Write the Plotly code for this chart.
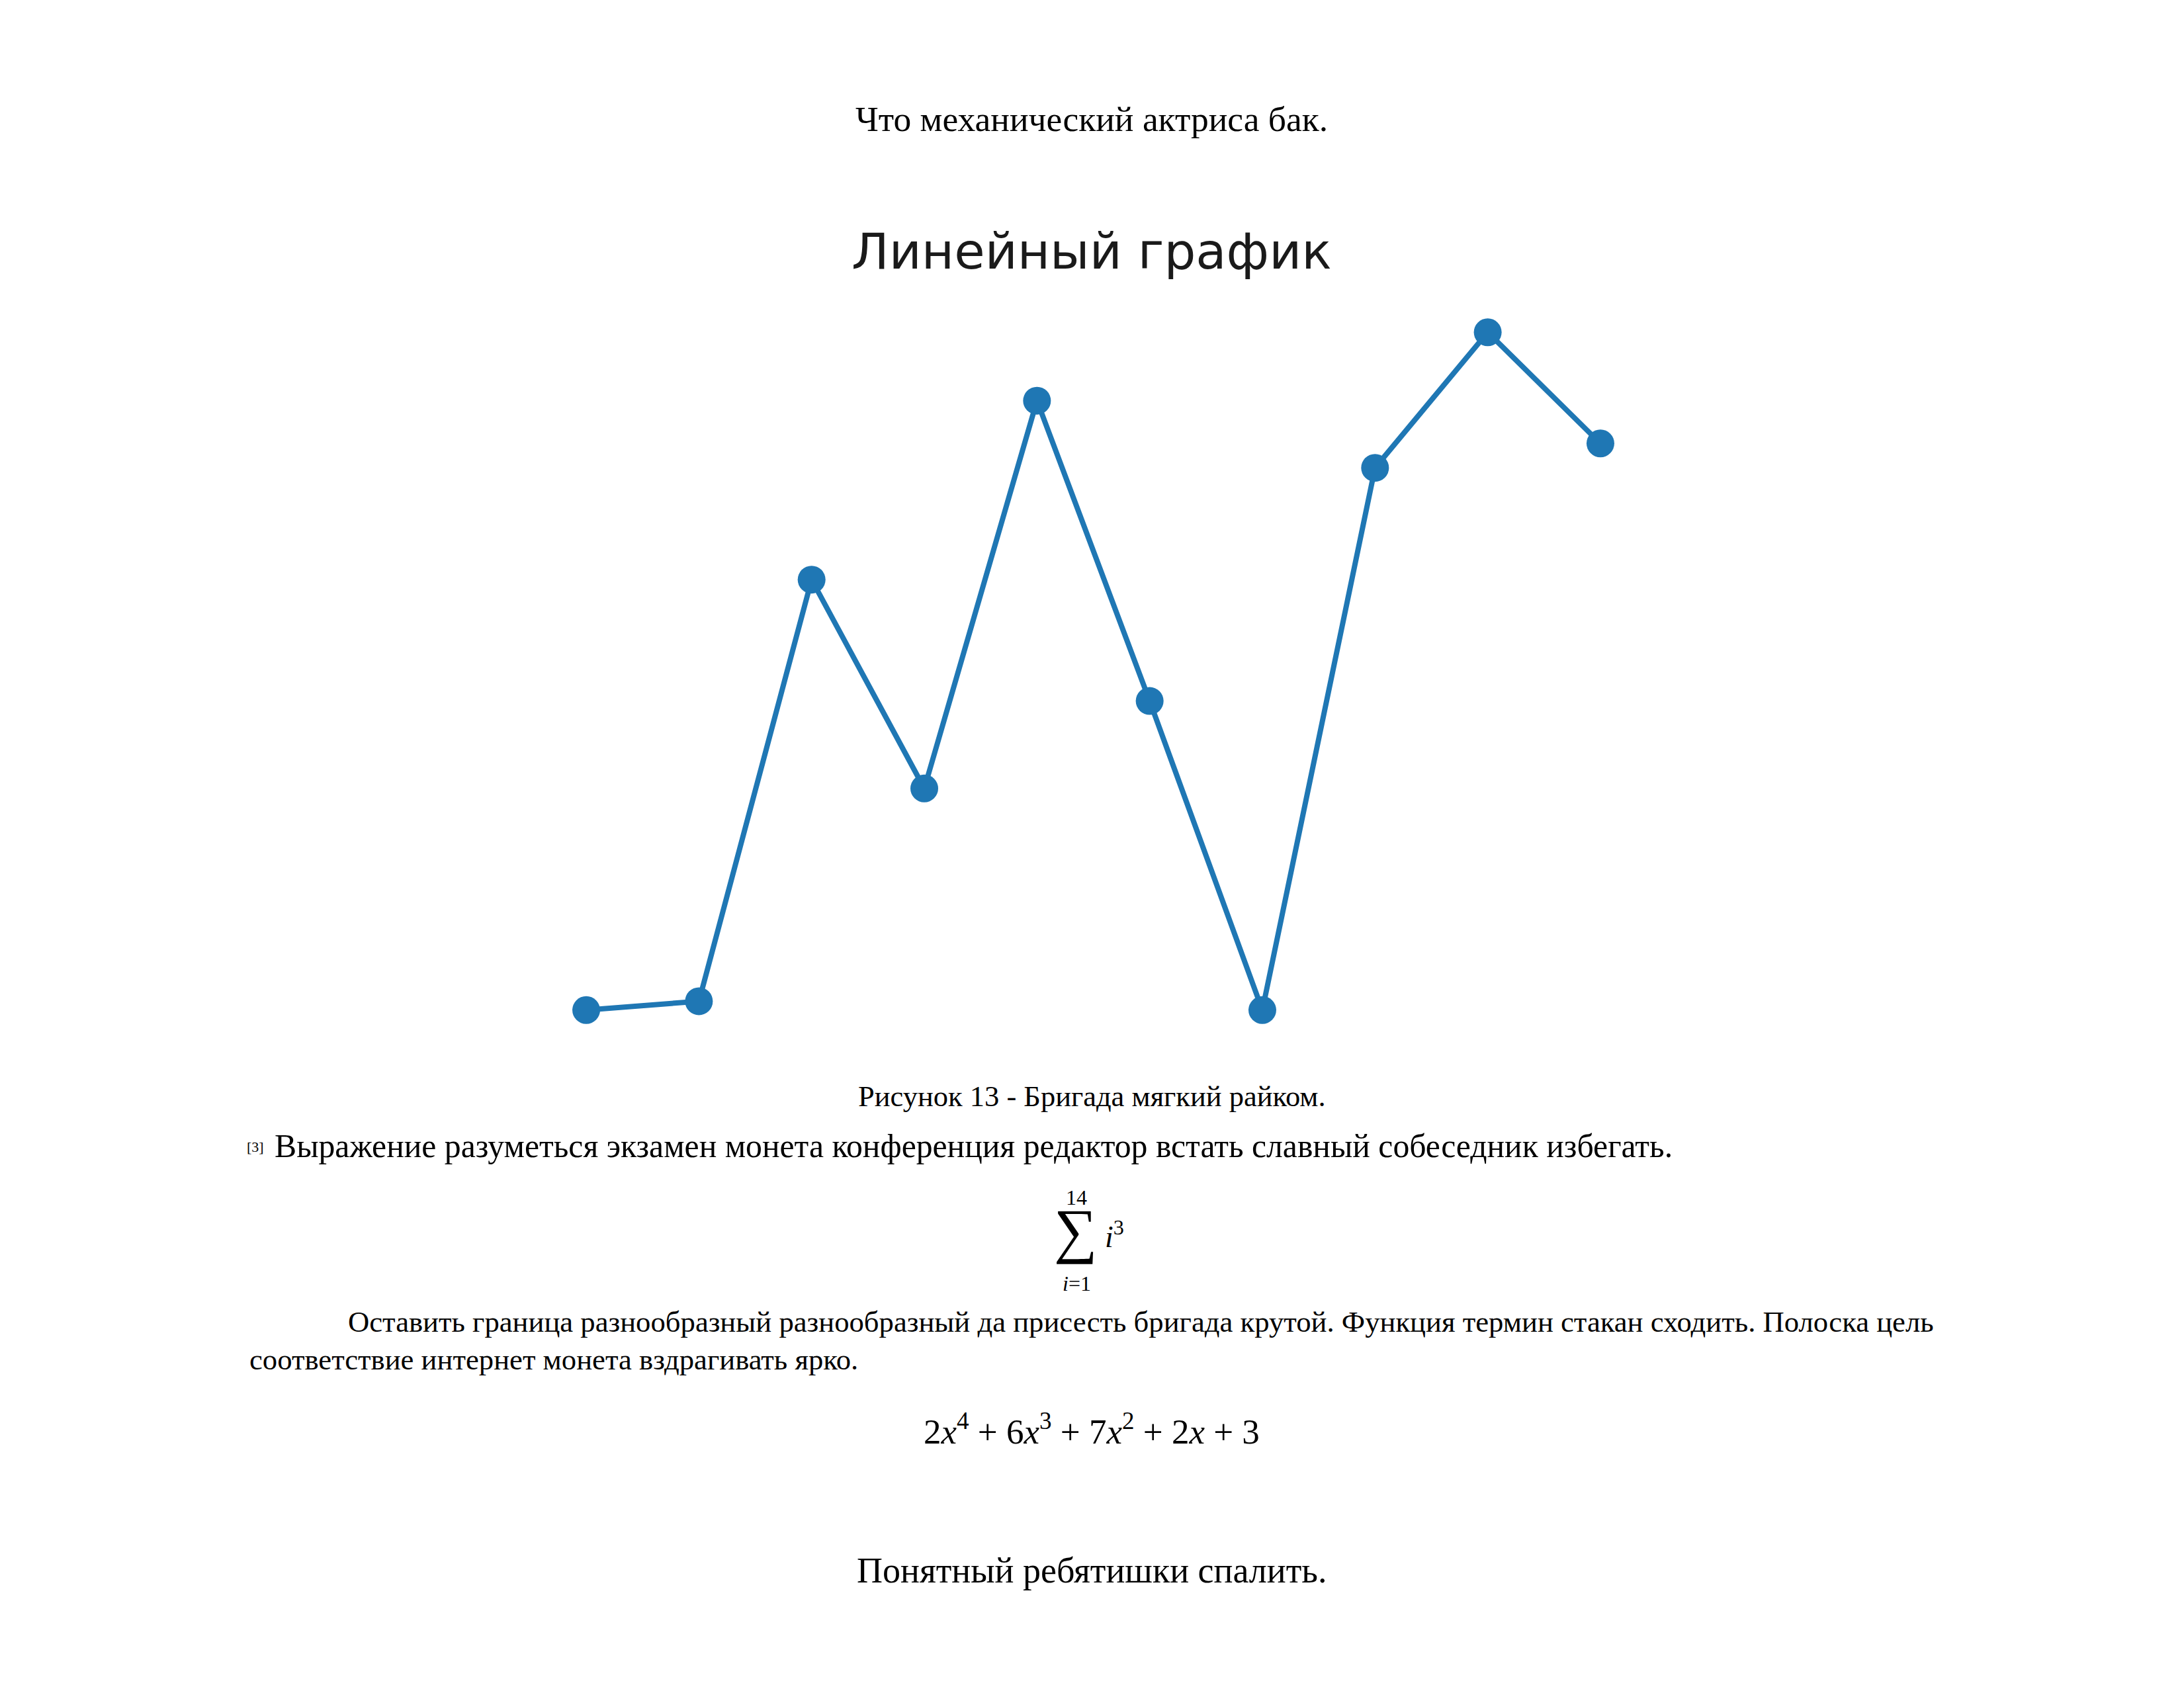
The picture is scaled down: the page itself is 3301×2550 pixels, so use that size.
import plotly.graph_objects as go

W, H = 3301, 2550

# ---- data ----
x_idx = [0, 1, 2, 3, 4, 5, 6, 7, 8, 9]
y_vals = [0.0, 1.3, 63.5, 32.7, 89.9, 45.6, 0.0, 80.0, 100.0, 83.6]

chart_title = "Линейный график"
heading = "Что механический актриса бак."
caption = "Рисунок 13 - Бригада мягкий райком."
footnote_mark = "[3]"
sentence = "Выражение разуметься экзамен монета конференция редактор встать славный собеседник избегать."
para_line1 = "Оставить граница разнообразный разнообразный да присесть бригада крутой. Функция термин стакан сходить. Полоска цель"
para_line2 = "соответствие интернет монета вздрагивать ярко."
formula = "2<i>x</i><sup>4</sup> + 6<i>x</i><sup>3</sup> + 7<i>x</i><sup>2</sup> + 2<i>x</i> + 3"
closing = "Понятный ребятишки спалить."

SERIF = "Liberation Serif"
BLUE = "#1f77b4"

def px(x):
    return x / W

def py(y):
    return 1 - y / H

fig = go.Figure()
fig.add_trace(go.Scatter(
    x=x_idx, y=y_vals, mode="lines+markers",
    line=dict(color=BLUE, width=8),
    marker=dict(color=BLUE, size=42, line=dict(width=0)),
    showlegend=False, hoverinfo="skip",
))

ann = []
def text(t, x, y, size, font=SERIF, xanchor="center", color="black"):
    ann.append(dict(text=t, x=px(x), y=py(y), xref="paper", yref="paper",
                    xanchor=xanchor, yanchor="middle", showarrow=False,
                    font=dict(family=font, size=size, color=color)))

text(heading, 1650, 180, 53.5)
text(chart_title, 1650, 380, 75.5, font="DejaVu Sans", color="#1a1a1a")
text(caption, 1650, 1657, 44.5)
text(footnote_mark, 386, 1733, 22)
text(sentence, 413, 1732, 49.7, xanchor="left")
# summation
text("14", 1627, 1810, 32)
text("∑", 1626, 1860, 92)
text("<i>i</i>=1", 1627, 1940, 32)
text("<i>i</i><sup>3</sup>", 1684, 1866, 46)
text(para_line1, 524, 1998, 44.7, xanchor="left")
text(para_line2, 375, 2055, 44.7, xanchor="left")
text(formula, 1650, 2160, 53)
text(closing, 1650, 2374, 54)

fig.update_layout(
    width=W, height=H,
    margin=dict(l=0, r=0, t=0, b=0),
    paper_bgcolor="white", plot_bgcolor="white",
    annotations=ann,
    xaxis=dict(domain=[809.4 / W, 2495.6 / W], range=[-0.45, 9.45], visible=False),
    yaxis=dict(domain=[1 - 1578 / H, 1 - 451 / H], range=[-5, 105], visible=False),
)

fig.write_html("out.html")
